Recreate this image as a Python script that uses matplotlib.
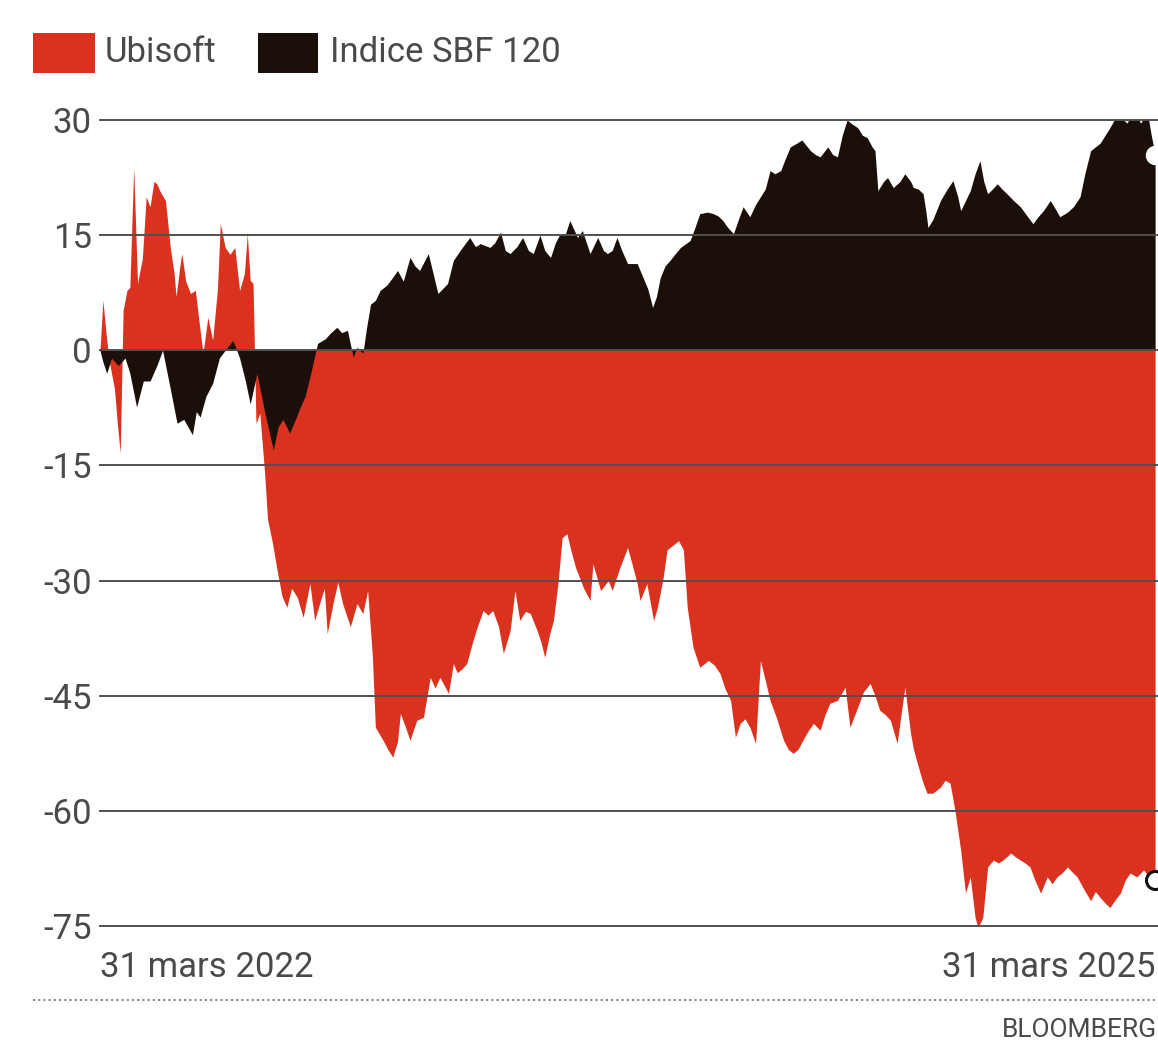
import matplotlib
matplotlib.use("Agg")
import matplotlib.pyplot as plt
from matplotlib.patches import Rectangle
from matplotlib.lines import Line2D
import pandas as pd

plt.rcParams['font.family'] = ['Liberation Sans Narrow', 'Roboto', 'DejaVu Sans']

# jours écoulés depuis le 31 mars 2022, variation en %
jours_ubi = [0, 3, 7, 10, 15, 18, 21, 24, 28, 31,
             35, 39, 44, 48, 52, 56, 59, 62, 68, 73,
             77, 79, 83, 85, 89, 94, 99, 104, 107, 112,
             117, 122, 125, 130, 135, 140, 145, 150, 153, 156,
             159, 162, 166, 171, 174, 179, 184, 189, 194, 199,
             205, 211, 218, 223, 229, 233, 236, 242, 247, 252,
             260, 267, 273, 278, 283, 286, 294, 299, 304, 309,
             312, 317, 322, 329, 336, 343, 348, 353, 362, 367,
             371, 376, 381, 387, 392, 398, 403, 408, 414, 419,
             426, 431, 436, 442, 447, 454, 458, 462, 467, 471,
             476, 480, 485, 489, 494, 502, 509, 512, 520, 528,
             532, 540, 548, 553, 558, 561, 568, 575, 579, 585,
             589, 594, 601, 606, 610, 616, 623, 632, 638, 644,
             649, 655, 660, 665, 670, 675, 681, 686, 691, 696,
             703, 710, 715, 720, 725, 730, 736, 741, 748, 753,
             758, 766, 774, 779, 787, 793, 800, 805, 810, 816,
             821, 828, 836, 842, 845, 849, 854, 859, 865, 873,
             878, 883, 888, 894, 899, 904, 909, 912, 917, 922,
             928, 933, 938, 946, 951, 956, 961, 966, 971, 977,
             984, 989, 994, 1000, 1005, 1010, 1015, 1021, 1029, 1034,
             1039, 1044, 1049, 1055, 1060, 1065, 1070, 1077, 1084, 1089,
             1096]
ubisoft = [0, 6.5, 1.3, -1.7, -5, -9.5, -13.4, 5.2, 7.8, 8.2,
           23.8, 8.7, 12, 20, 18.7, 22, 21.7, 20.8, 19.5, 13.4,
           10, 7, 11, 12.6, 9, 7.4, 7.8, 2.6, -0.4, 4.3,
           1.3, 8, 16.5, 13.4, 12.5, 13.4, 7.8, 10, 15.2, 9.1,
           8.7, -9.5, -8.2, -16, -22, -25, -28.7, -32, -33.5, -31,
           -32.2, -34.8, -30.4, -35.2, -32.6, -31, -36.9, -33, -30.2, -33,
           -36, -33, -34.3, -31.3, -40, -49.1, -50.8, -52, -53, -51,
           -47.3, -49, -50.8, -48.2, -47.8, -42.6, -44, -42.6, -44.7, -40.8,
           -42, -41.5, -40.8, -38, -36, -33.9, -34.5, -33.9, -36, -39.5,
           -36.5, -31.3, -35.2, -34, -34.3, -36.5, -38, -40, -37, -35.2,
           -30, -24.4, -23.9, -26, -28.3, -30.9, -32.6, -27.8, -31.3, -30,
           -31.3, -28.3, -25.7, -28, -30.4, -32.6, -30.4, -35.2, -33.5, -29.6,
           -26, -25.5, -24.8, -26, -33.5, -38.7, -41.3, -40.4, -41, -42.1,
           -44, -45.6, -50.4, -48.6, -48, -49.1, -51.2, -40.4, -43, -45.6,
           -48, -50.8, -52, -52.5, -52, -50.8, -49.5, -48.6, -49.5, -47.5,
           -46, -45.6, -43.9, -49.1, -46.5, -44.5, -43.4, -45, -46.9, -47.5,
           -48.2, -51.2, -43.9, -49.9, -52, -53.8, -56, -57.7, -57.7, -56.9,
           -56, -56.4, -59.9, -65.1, -70.7, -68.6, -73.9, -75.2, -73.9, -67.3,
           -66.4, -66.8, -66.4, -65.5, -66, -66.4, -66.8, -67.3, -69, -70.7,
           -68.6, -69.5, -68.6, -68, -67.3, -68, -68.6, -70, -71.7, -70.5,
           -71.3, -72, -72.6, -71.5, -70.7, -69, -68.1, -68.6, -67.7, -68.5,
           -69]

jours_sbf = [0, 3, 7, 12, 19, 26, 31, 38, 45, 52,
             59, 65, 73, 80, 87, 96, 100, 104, 110, 117,
             124, 130, 138, 145, 151, 156, 163, 171, 180, 185,
             190, 197, 203, 208, 213, 218, 226, 234, 239, 246,
             251, 257, 263, 267, 273, 277, 281, 286, 291, 298,
             304, 309, 315, 322, 327, 332, 341, 346, 351, 361,
             367, 374, 384, 390, 395, 405, 410, 416, 421, 426,
             433, 439, 445, 450, 457, 462, 468, 473, 478, 483,
             488, 496, 501, 509, 517, 523, 527, 532, 537, 542,
             548, 558, 564, 569, 574, 578, 582, 587, 592, 597,
             603, 613, 618, 623, 631, 637, 642, 647, 652, 658,
             663, 668, 675, 681, 686, 691, 696, 701, 707, 712,
             717, 724, 729, 738, 743, 748, 756, 761, 766, 771,
             776, 781, 787, 792, 797, 802, 805, 808, 814, 818,
             824, 831, 836, 842, 845, 850, 855, 858, 860, 865,
             873, 880, 886, 891, 894, 899, 904, 909, 914, 918,
             922, 927, 932, 937, 942, 949, 956, 963, 969, 975,
             980, 987, 992, 997, 1005, 1011, 1018, 1023, 1029, 1034,
             1039, 1044, 1049, 1058, 1063, 1067, 1073, 1081, 1088, 1092,
             1096]
sbf120 = [0, -1.5, -3, -1, -2, -1, -3, -7.4, -4, -4,
          -2, 0, -5, -9.5, -9, -11, -8, -8.7, -6, -4.3,
          -1, 0, 1.3, -1, -4, -7, -3, -8, -13, -10,
          -9, -10.8, -9, -7.4, -6, -3.5, 0.9, 1.5, 2.2, 3,
          2.3, 2.6, -0.9, 0.4, -0.4, 3, 6, 6.5, 7.8, 8.5,
          9.5, 10.4, 9, 12.1, 11, 10.4, 12.6, 10, 7.4, 8.7,
          11.7, 13, 14.7, 13.5, 13.9, 13.4, 14, 15.4, 13, 12.6,
          13.5, 14.7, 13, 12.6, 15, 13, 12.1, 14, 15.2, 15,
          16.9, 14.7, 15.6, 12.6, 14.7, 13, 12.6, 13, 14.7, 13,
          11.3, 11.3, 9.5, 8, 5.6, 7, 9.5, 11, 11.7, 12.5,
          13.4, 14.3, 16, 17.8, 18, 17.8, 17.5, 16.9, 16, 15.2,
          17, 18.7, 17.4, 19, 20, 21, 23.4, 23, 23.4, 25,
          26.5, 27, 27.4, 26, 25.5, 25.2, 26.5, 25.5, 25.2, 28,
          30, 29.5, 29, 28, 27.7, 26.5, 26, 20.8, 22, 22.5,
          21.2, 22, 23, 22, 21.2, 21, 20.4, 18, 16, 17,
          19.5, 21, 22.1, 20, 18.2, 19.5, 20.8, 23, 24.7, 22,
          20.4, 21, 21.7, 21, 20.4, 19.5, 18.7, 17.5, 16.5, 17.5,
          18.2, 19.5, 18.5, 17.4, 18, 18.7, 20, 23, 26, 26.5,
          27, 28, 29, 31, 30, 29.6, 31.3, 29.6, 31, 28,
          25.5]

yticks = [30, 15, 0, -15, -30, -45, -60, -75]
xlabels = ["31 mars 2022", "31 mars 2025"]

debut = pd.Timestamp("2022-03-31")
fin = pd.Timestamp("2025-03-31")
x_ubi = debut + pd.to_timedelta(jours_ubi, unit="D")
x_sbf = debut + pd.to_timedelta(jours_sbf, unit="D")

ROUGE = "#da321f"
NOIR = "#1b1009"
GRIS = "#4a4a4a"

W, H = 1158, 1046
fig = plt.figure(figsize=(W / 100, H / 100), dpi=100)
ax = fig.add_axes([100 / W, 1 - 926 / H, 1058 / W, 806 / H])

ax.fill_between(x_ubi, ubisoft, 0, color=ROUGE, lw=0, zorder=1)
ax.fill_between(x_sbf, sbf120, 0, color=NOIR, lw=0, zorder=2)

for v in yticks:
    ax.axhline(v, color="#505050", lw=1.4, zorder=3, clip_on=False)

ax.plot(x_sbf[-1], sbf120[-1], "o", ms=13, mfc="white", mec="white", zorder=5, clip_on=False)
ax.plot(x_ubi[-1], ubisoft[-1], "o", ms=13, mfc="white", mec="#111111", mew=2.2, zorder=5, clip_on=False)

ax.set_ylim(-75, 30)
ax.set_xlim(debut, debut + pd.Timedelta(days=1099))
ax.set_yticks(yticks)
ax.set_yticklabels([str(v) for v in yticks], fontsize=25, color=GRIS)
ax.set_xticks([debut, fin])
ax.set_xticklabels(xlabels, fontsize=25, color=GRIS)
labs = ax.get_xticklabels()
labs[0].set_ha("left")
labs[1].set_ha("right")
ax.tick_params(length=0, pad=6)
ax.tick_params(axis="x", pad=18)
for s in ax.spines.values():
    s.set_visible(False)

# légende
fig.add_artist(Rectangle((33 / W, 1 - 73 / H), 62 / W, 40 / H, transform=fig.transFigure, color=ROUGE, lw=0))
fig.text(105 / W, 1 - 53 / H, "Ubisoft", fontsize=25, color=GRIS, va="center")
fig.add_artist(Rectangle((258 / W, 1 - 73 / H), 60 / W, 40 / H, transform=fig.transFigure, color=NOIR, lw=0))
fig.text(330 / W, 1 - 53 / H, "Indice SBF 120", fontsize=25, color=GRIS, va="center")

# pied
fig.add_artist(Line2D([33 / W, 1], [1 - 1000 / H, 1 - 1000 / H], transform=fig.transFigure,
                      color="#888888", lw=1.5, ls=(0, (1, 1.5))))
fig.text(1157 / W, 1 - 1030 / H, "BLOOMBERG", fontsize=19, color=GRIS, ha="right", va="center")

fig.savefig("out.png", dpi=100)
